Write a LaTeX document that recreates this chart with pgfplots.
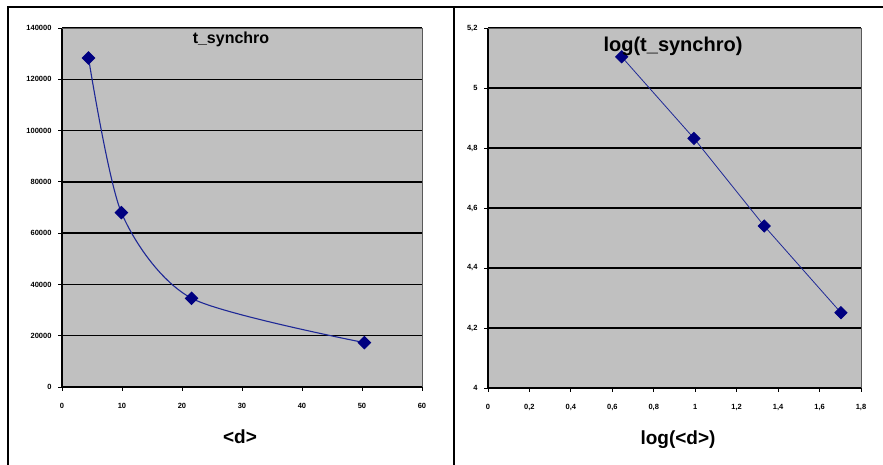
\documentclass[border=0pt]{standalone}
\usepackage{pgfplots}
\pgfplotsset{compat=1.18}
\usepackage{fontspec}
\setmainfont{Liberation Sans}
\definecolor{plotgray}{RGB}{192,192,192}
\definecolor{navymark}{RGB}{0,0,128}
\definecolor{curve}{RGB}{30,40,150}
\begin{document}
\begin{tikzpicture}
\useasboundingbox (0pt,0pt) rectangle (883pt,465pt);
\fill[white] (0pt,0pt) rectangle (883pt,465pt);
\draw[line width=1.5pt] (8pt,0pt) -- (8pt,458pt) -- (883pt,458pt);
\draw[line width=1.5pt] (454pt,0pt) -- (454pt,458pt);
\pgfplotsset{myax/.style={
 scale only axis, axis background/.style={fill=plotgray},
 axis x line*=bottom, axis y line*=left,
 axis line style={line width=1.3pt, black},
 ymajorgrids, grid style={black, line width=1.4pt},
 tick align=outside, major tick length=4pt,
 tick style={black, line width=0.9pt},
 /pgf/number format/assume math mode=true,
 tick label style={font=\fontsize{7.5}{8}\selectfont\bfseries},
 xticklabel style={yshift=-9pt},
 yticklabel style={xshift=-3pt},
 clip=false,
}}
\begin{axis}[myax, at={(62pt,78pt)}, anchor=south west, width=360pt, height=359pt,
  xmin=0, xmax=60, ymin=0, ymax=140000,
  xtick={0,10,...,60}, ytick={0,20000,...,140000},
  yticklabel style={/pgf/number format/fixed, /pgf/number format/precision=0, /pgf/number format/1000 sep={}},
  scaled y ticks=false]
\addplot[curve, line width=1.1pt, smooth, tension=0.45, mark=square*, mark size=4.3pt,
  mark options={rotate=45, fill=navymark, draw=navymark}]
  coordinates {(4.42,128300) (9.9,68000) (21.6,34600) (50.4,17300)};
\draw[gray!70!black, line width=0.8pt] (rel axis cs:0,1) -- (rel axis cs:1,1) -- (rel axis cs:1,0);
\end{axis}
\begin{axis}[myax, at={(488pt,77pt)}, anchor=south west, width=373pt, height=360pt,
  xmin=0, xmax=1.8, ymin=4, ymax=5.2,
  xtick={0,0.2,...,1.8}, ytick={4,4.2,...,5.2},
  /pgf/number format/use comma]
\addplot[curve, line width=0.8pt, mark=square*, mark size=4.3pt,
  mark options={rotate=45, fill=navymark, draw=navymark}]
  coordinates {(0.645,5.104) (0.994,4.832) (1.333,4.540) (1.703,4.251)};
\draw[gray!70!black, line width=0.8pt] (rel axis cs:0,1) -- (rel axis cs:1,1) -- (rel axis cs:1,0);
\end{axis}
\node[font=\fontsize{16}{18}\selectfont\bfseries] at (231pt,426pt) {t\_synchro};
\node[font=\fontsize{20}{22}\selectfont\bfseries] at (673pt,419pt) {log(t\_synchro)};
\node[font=\fontsize{19}{21}\selectfont\bfseries] at (240pt,28pt) {<d>};
\node[font=\fontsize{19}{21}\selectfont\bfseries] at (678pt,25pt) {log(<d>)};
\end{tikzpicture}
\end{document}
